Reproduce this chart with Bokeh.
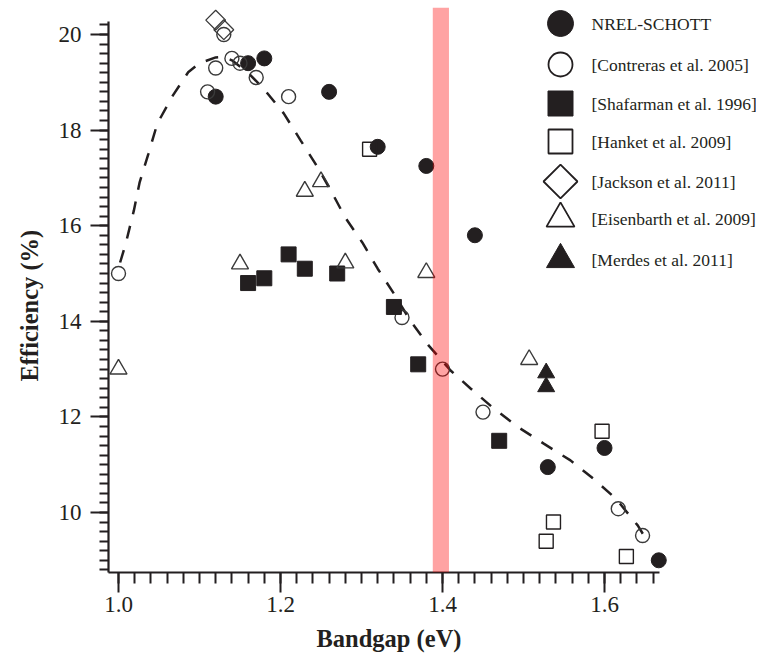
import math
from bokeh.plotting import figure
from bokeh.models import (Range1d, SingleIntervalTicker, BoxAnnotation, PrintfTickFormatter,
                          ColumnDataSource, Title)
from bokeh.core.properties import value
from bokeh.embed import file_html
from bokeh.resources import INLINE

# ---------------- data ----------------
nrel_x = [1.12, 1.16, 1.18, 1.26, 1.32, 1.38, 1.44, 1.53, 1.60, 1.667]
nrel_y = [18.7, 19.4, 19.5, 18.8, 17.65, 17.25, 15.8, 10.95, 11.35, 9.0]

contreras_x = [1.00, 1.11, 1.12, 1.13, 1.14, 1.15, 1.17, 1.21, 1.35, 1.40, 1.45, 1.617, 1.647]
contreras_y = [15.0, 18.8, 19.3, 20.0, 19.5, 19.4, 19.1, 18.7, 14.08, 13.0, 12.1, 10.08, 9.52]

shafarman_x = [1.16, 1.18, 1.21, 1.23, 1.27, 1.34, 1.37, 1.47]
shafarman_y = [14.8, 14.9, 15.4, 15.1, 15.0, 14.3, 13.1, 11.5]

hanket_x = [1.31, 1.528, 1.537, 1.597, 1.627]
hanket_y = [17.6, 9.4, 9.8, 11.7, 9.08]

jackson_x = [1.12, 1.13]
jackson_y = [20.3, 20.1]

eisenbarth_x = [1.00, 1.15, 1.23, 1.25, 1.28, 1.38, 1.507]
eisenbarth_y = [13.0, 15.2, 16.72, 16.92, 15.22, 15.02, 13.2]

merdes_x = [1.528, 1.528]
merdes_y = [12.92, 12.63]

fit_x = [1.002, 1.009, 1.019, 1.026, 1.037, 1.048, 1.067, 1.086, 1.10, 1.12, 1.13,
         1.14, 1.16, 1.179, 1.204, 1.225, 1.243, 1.262, 1.28, 1.301, 1.32, 1.34,
         1.36, 1.383, 1.41, 1.435, 1.463, 1.494, 1.525, 1.558, 1.586, 1.614, 1.641, 1.65]
fit_y = [15.23, 15.63, 16.32, 16.90, 17.51, 18.14, 18.72, 19.21, 19.40, 19.52, 19.53,
         19.46, 19.2, 18.87, 18.35, 17.78, 17.30, 16.74, 16.17, 15.65, 15.10, 14.58,
         14.02, 13.49, 12.97, 12.59, 12.18, 11.78, 11.44, 11.09, 10.71, 10.29, 9.73, 9.48]

band_left, band_right = 1.388, 1.408

series_labels = ["NREL-SCHOTT", "[Contreras et al. 2005]", "[Shafarman et al. 1996]",
                 "[Hanket et al. 2009]", "[Jackson et al. 2011]", "[Eisenbarth et al. 2009]",
                 "[Merdes et al. 2011]"]

x_title = "Bandgap (eV)"
y_title = "Efficiency (%)"
x_ticks_interval = 0.2
y_ticks_interval = 2

# ---------------- layout (screen pixels) ----------------
W, H = 756, 663
FRAME_L, FRAME_R, FRAME_T, FRAME_B = 108, 756, 7, 572
PX_PER_X = 810.0      # px per eV
PX_PER_Y = 47.8       # px per %
X0 = 1.0 - (118 - FRAME_L) / PX_PER_X
X1 = X0 + (FRAME_R - FRAME_L) / PX_PER_X
Y1 = 20.0 + (34 - FRAME_T) / PX_PER_Y
Y0 = Y1 - (FRAME_B - FRAME_T) / PX_PER_Y
X_AXIS_END = 1.668
Y_AXIS_TOP = 20.27


def sx_to_x(px):
    return X0 + (px - FRAME_L) / PX_PER_X


def sy_to_y(py):
    return Y1 - (py - FRAME_T) / PX_PER_Y


INK = "#231f20"
OPEN = "#3a3a3a"
FONT = "Liberation Serif"

p = figure(width=W, height=H, output_backend="svg", toolbar_location=None,
           x_range=Range1d(X0, X1), y_range=Range1d(Y0, Y1),
           min_border_left=FRAME_L, min_border_right=W - FRAME_R,
           min_border_top=FRAME_T, min_border_bottom=H - FRAME_B)
p.outline_line_color = None
p.xgrid.visible = False
p.ygrid.visible = False
p.background_fill_color = "white"
p.border_fill_color = "white"

# fitted curve
p.line(fit_x, fit_y, line_color=INK, line_width=2.5, line_dash="13 12")

p.scatter(nrel_x, nrel_y, marker="circle", size=15, fill_color=INK, line_color=INK)
p.scatter(contreras_x, contreras_y, marker="circle", size=14, fill_color=None,
          line_color=OPEN, line_width=1.4)
p.scatter(shafarman_x, shafarman_y, marker="square", size=15, fill_color=INK, line_color=INK)
p.scatter(hanket_x, hanket_y, marker="square", size=14, fill_color=None,
          line_color=INK, line_width=1.4)
p.scatter(jackson_x, jackson_y, marker="square", size=14, angle=math.pi / 4,
          fill_color=None, line_color=OPEN, line_width=1.3)
p.scatter(eisenbarth_x, eisenbarth_y, marker="triangle", size=17, fill_color=None,
          line_color=OPEN, line_width=1.4)
p.scatter(merdes_x, merdes_y, marker="triangle", size=17, fill_color=INK, line_color=INK)

band = BoxAnnotation(left=band_left, right=band_right,
                     fill_color="red", fill_alpha=0.36, line_color=None)
p.add_layout(band)

# ---------------- legend (keys laid out in screen pixels) ----------------
key_px = 560
label_px = 591
row_py = [23, 64, 103, 141, 181, 218, 259]
leg = ColumnDataSource(dict(
    x=[sx_to_x(key_px)] * 7,
    y=[sy_to_y(v) for v in row_py],
    marker=["circle", "circle", "square", "square", "square", "triangle", "triangle"],
    size=[26, 24, 25, 24, 24, 28, 28],
    angle=[0, 0, 0, 0, math.pi / 4, 0, 0],
    fill=[INK, "white", INK, "white", "white", "white", INK],
    lw=[1, 1.8, 1, 1.8, 1.8, 1.8, 1],
))
p.scatter("x", "y", source=leg, marker="marker", size="size", angle="angle",
          fill_color="fill", line_color=INK, line_width="lw")
p.text([sx_to_x(label_px)] * 7, [sy_to_y(v) for v in row_py], text=series_labels,
       text_font=value(FONT), text_font_size="17.5px", text_color=INK,
       text_align="left", text_baseline="middle")

# ---------------- axes ----------------
xa = p.xaxis[0]
xa.ticker = SingleIntervalTicker(interval=x_ticks_interval, num_minor_ticks=10)
xa.formatter = PrintfTickFormatter(format="%.1f")
xa.bounds = (X0, X_AXIS_END)
ya = p.yaxis[0]
ya.ticker = SingleIntervalTicker(interval=y_ticks_interval, num_minor_ticks=10)
ya.bounds = (Y0, Y_AXIS_TOP)

for ax in (xa, ya):
    ax.axis_line_color = INK
    ax.axis_line_width = 2.2
    ax.major_tick_line_color = INK
    ax.major_tick_line_width = 2
    ax.minor_tick_line_color = INK
    ax.minor_tick_line_width = 2
    ax.major_tick_in = 0
    ax.minor_tick_in = 0
    ax.major_label_text_font = FONT
    ax.major_label_text_font_size = "23px"
    ax.major_label_text_color = INK

xa.major_tick_out = 20
xa.minor_tick_out = 11
xa.major_label_standoff = 4

ya.major_tick_out = 18
ya.minor_tick_out = 9
ya.major_label_standoff = 9

# axis titles, positioned under / beside the drawn axis lines
p.add_layout(Title(text=x_title, align="left", offset=208, vertical_align="bottom", standoff=16,
                   text_font=FONT, text_font_style="bold", text_font_size="24.5px",
                   text_color=INK), "below")
p.add_layout(Title(text=y_title, align="left", offset=191, vertical_align="middle", standoff=24,
                   text_font=FONT, text_font_style="bold", text_font_size="24.5px",
                   text_color=INK), "left")

open("out.html", "w").write(file_html(p, INLINE))
